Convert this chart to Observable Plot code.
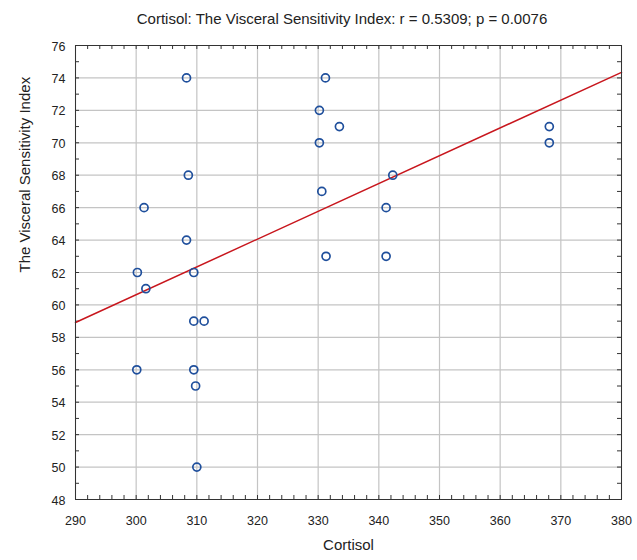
<!DOCTYPE html>
<html><head><meta charset="utf-8">
<script src="https://cdn.jsdelivr.net/npm/d3@7"></script>
<script src="https://cdn.jsdelivr.net/npm/@observablehq/plot@0.6"></script>
<style>
body{margin:0;background:#fff;}
#wrap{position:relative;width:637px;height:560px;font-family:"Liberation Sans",Arial,sans-serif;}
#title{position:absolute;top:10px;left:0;width:684px;text-align:center;font-size:15px;color:#222;white-space:nowrap;z-index:2;}
#wrap svg{position:absolute;left:0;top:0;}
</style></head><body><div id="wrap"><div id="title"></div></div>
<script>
const titleText = "Cortisol: The Visceral Sensitivity Index: r = 0.5309; p = 0.0076";
const xLabel = "Cortisol";
const yLabel = "The Visceral Sensitivity Index";
const cortisol = [308.3, 331.2, 330.2, 333.5, 330.2, 308.6, 342.3, 301.3, 341.2, 308.3, 330.6, 331.3, 341.2, 300.2, 309.5, 301.6, 309.5, 311.2, 300.1, 309.5, 309.8, 310.0, 368.1, 368.1];
const vsi      = [74,    74,    72,    71,    70,    68,    68,    66,    66,    64,    67,    63,    63,    62,    62,    61,    59,    59,    56,    56,    55,    50,    71,    70];
const xTicks = [290, 300, 310, 320, 330, 340, 350, 360, 370, 380];
const yTicks = [48, 50, 52, 54, 56, 58, 60, 62, 64, 66, 68, 70, 72, 74, 76];

document.getElementById("title").textContent = titleText;

const W = 637, H = 560, mL = 75, mR = 16, mT = 45, mB = 61;
const innerW = W - mL - mR, innerH = H - mT - mB;
const xDomain = [xTicks[0], xTicks[xTicks.length - 1]];
const yDomain = [yTicks[0], yTicks[yTicks.length - 1]];
const xMinor = d3.range(xDomain[0], xDomain[1] + 0.001, 2);
const yMinor = d3.range(yDomain[0], yDomain[1] + 0.001, 1);

// least-squares fit from the data
const mx = d3.mean(cortisol), my = d3.mean(vsi);
let sxy = 0, sxx = 0;
cortisol.forEach((x, i) => { sxy += (x - mx) * (vsi[i] - my); sxx += (x - mx) ** 2; });
const slope = sxy / sxx, intercept = my - slope * mx;

const tickStroke = "#333";
const plot = Plot.plot({
  width: W, height: H,
  marginLeft: mL, marginRight: mR, marginTop: mT, marginBottom: mB,
  x: {domain: xDomain, label: null},
  y: {domain: yDomain, label: null},
  style: {fontFamily: '"Liberation Sans", Arial, sans-serif', fontSize: "12.5px", color: "#222", background: "transparent"},
  marks: [
    Plot.ruleX(xTicks, {x: d => d, stroke: "#c4c4c4", strokeWidth: 1.2}),
    Plot.ruleY(yTicks, {y: d => d, stroke: "#c4c4c4", strokeWidth: 1.2}),
    Plot.tickX(xMinor, {x: d => d, insetTop: innerH - 4, stroke: tickStroke}),
    Plot.tickX(xMinor, {x: d => d, insetBottom: innerH - 4, stroke: tickStroke}),
    Plot.tickY(yMinor, {y: d => d, insetRight: innerW - 4, stroke: tickStroke}),
    Plot.tickY(yMinor, {y: d => d, insetLeft: innerW - 4, stroke: tickStroke}),
    Plot.axisX({ticks: xTicks, tickSize: 0, tickPadding: 17, label: null}),
    Plot.axisY({ticks: yTicks, tickSize: 0, tickPadding: 10, dy: 1, label: null}),
    Plot.line(xDomain, {x: d => d, y: d => intercept + slope * d, stroke: "#c8161d", strokeWidth: 1.5}),
    Plot.dot(cortisol, {x: cortisol, y: vsi, r: 4, stroke: "#1f4f9c", strokeWidth: 1.7, fill: "none"}),
    Plot.frame({stroke: "#333", strokeWidth: 1}),
    Plot.text([xLabel], {frameAnchor: "bottom", dy: 50, fontSize: 15, fill: "#222"}),
    Plot.text([yLabel], {frameAnchor: "left", dx: -50, rotate: -90, fontSize: 15, fill: "#222"})
  ]
});
document.getElementById("wrap").appendChild(plot);
</script>
</body></html>
